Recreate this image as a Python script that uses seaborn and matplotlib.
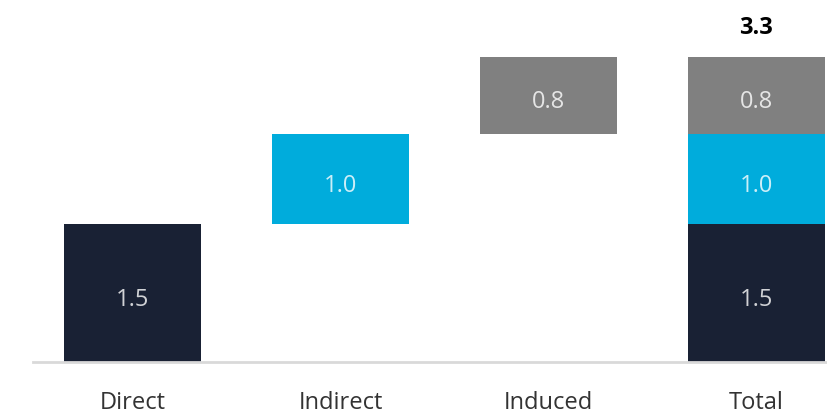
import matplotlib
matplotlib.use("Agg")
import matplotlib.pyplot as plt
import seaborn as sns
import numpy as np

categories = ["Direct", "Indirect", "Induced", "Total"]
components = ["Direct", "Indirect", "Induced"]
values = [1.49, 0.98, 0.83]
total_label = "3.3"
colors = ["#192134", "#00acdc", "#808080"]

sns.set_theme(style="white")
plt.rcParams['font.family'] = ['Open Sans', 'DejaVu Sans']

fig = plt.figure(figsize=(8.27, 4.14), dpi=100)
ax = fig.add_axes([0.04, 0.1232, 0.96, 0.8768])

width = 0.66
bottoms = np.concatenate([[0], np.cumsum(values)[:-1]])


def label(x, y, txt):
    ax.annotate(txt, (x, y), xytext=(0, -4), textcoords="offset points",
                ha="center", va="center", color="white", alpha=0.8,
                fontsize=17)


# floating waterfall bars
for i, (v, b, c) in enumerate(zip(values, bottoms, colors)):
    ax.bar(i, v, bottom=b, width=width, color=c, linewidth=0)
    label(i, b + v / 2, f"{v:.1f}")

# stacked total bar
ti = len(categories) - 1
for v, b, c in zip(values, bottoms, colors):
    ax.bar(ti, v, bottom=b, width=width, color=c, linewidth=0)
    label(ti, b + v / 2, f"{v:.1f}")
total = sum(values)
ax.text(ti, total + 0.2, total_label, ha="center", va="bottom",
        fontsize=17, fontweight="bold", color="black")

ax.set_xlim(-0.48, 3.34)
ax.set_ylim(0, 3.93)
ax.set_xticks(range(len(categories)))
ax.set_xticklabels(categories, fontsize=17, color="#333333")
ax.tick_params(axis="x", length=0, pad=20)
ax.set_yticks([])
for s in ["top", "right", "left"]:
    ax.spines[s].set_visible(False)
ax.spines["bottom"].set_color("#d9d9d9")
ax.spines["bottom"].set_linewidth(2)

plt.savefig("out.png", dpi=100)
